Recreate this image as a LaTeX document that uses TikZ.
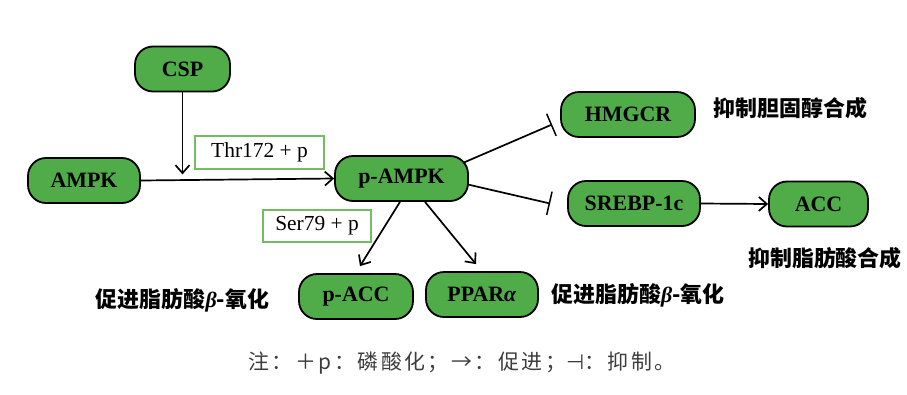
\documentclass[tikz,border=0pt]{standalone}
\usepackage{fontspec}
\setmainfont{Liberation Serif}
\newfontfamily\cjk{Noto Sans CJK SC}
\newfontfamily\cjknote[LetterSpace=12]{Noto Sans CJK SC}
\newfontfamily\symfont{DejaVu Sans}
\usetikzlibrary{arrows.meta}
\definecolor{boxgreen}{RGB}{80,172,72}
\definecolor{tagline}{RGB}{112,190,96}
\definecolor{notegray}{RGB}{60,60,60}

\begin{document}
\begin{tikzpicture}[x=1bp,y=-1bp,
  box/.style={draw=black,line width=1.8bp,fill=boxgreen,rounded corners=18bp,
    minimum height=45bp,inner xsep=10bp,font=\bfseries\fontsize{22}{22}\selectfont},
  tag/.style={draw=tagline,line width=1.4bp,fill=white,minimum height=33bp,
    inner xsep=8bp,font=\fontsize{21.5}{21.5}\selectfont},
  lab/.style={font=\cjk\bfseries\fontsize{22}{22}\selectfont},
  act/.style={line width=1.7bp,-{Straight Barb[length=8bp,width=14bp,line width=1.7bp]}},
  inh/.style={line width=1.7bp,-{Bar[width=24bp,line width=1.5bp]}}]

\useasboundingbox (0,0) rectangle (907,394);

\node[box,minimum width=95bp] (csp) at (182.5,69) {CSP};
\node[box,minimum width=112bp] (ampk) at (84,180.5) {AMPK};
\node[box,minimum width=133bp] (pampk) at (401.5,178.5) {p-AMPK};
\node[box,minimum width=134bp] (hmgcr) at (628,114.5) {HMGCR};
\node[box,minimum width=132bp] (srebp) at (634,203.5) {SREBP-1c};
\node[box,minimum width=99bp] (acc) at (818.5,204) {ACC};
\node[box,minimum width=114bp] (pacc) at (356,296.5) {p-ACC};
\node[box,minimum width=112bp] (ppar) at (482,294.5) {PPAR\textit{α}};

\node[tag,minimum width=129bp] (thr) at (259.5,152.5) {Thr172 + p};
\node[tag,minimum width=108bp,minimum height=32bp] (ser) at (317,226) {Ser79 + p};

\draw[act] (ampk.east) -- (pampk.west);
\draw[act] (csp.south) -- ([yshift=-82bp]csp.south);
\draw[inh] ([xshift=-5bp,yshift=16bp]pampk.east) -- ([xshift=-8bp,yshift=-10bp]hmgcr.west);
\draw[inh] ([xshift=-1bp,yshift=-6bp]pampk.east) -- ([xshift=-17bp]srebp.west);
\draw[act] (srebp.east) -- (acc.west);
\draw[act] ([xshift=-1.5bp]pampk.south) -- ([xshift=4bp,yshift=7bp]pacc.north);
\draw[act] ([xshift=23.5bp]pampk.south) -- ([xshift=-6bp,yshift=7bp]ppar.north);

\node[lab,anchor=west] (hmgcrlab) at (710,108) {抑制胆固醇合成};
\node[lab] (acclab) at (825,258) {抑制脂肪酸合成};
\node[lab] (pacclab) at (182.5,300) {促进脂肪酸{\normalfont\bfseries\itshape β}-氧化};
\node[lab,anchor=west] (pparlab) at (548,295) {促进脂肪酸{\normalfont\bfseries\itshape β}-氧化};

\node[font=\cjknote\fontsize{21}{21}\selectfont,text=notegray] (note) at (462,363)
  {注：＋p：磷酸化；→：促进；{\symfont ⊣}：抑制。};
\end{tikzpicture}
\end{document}
